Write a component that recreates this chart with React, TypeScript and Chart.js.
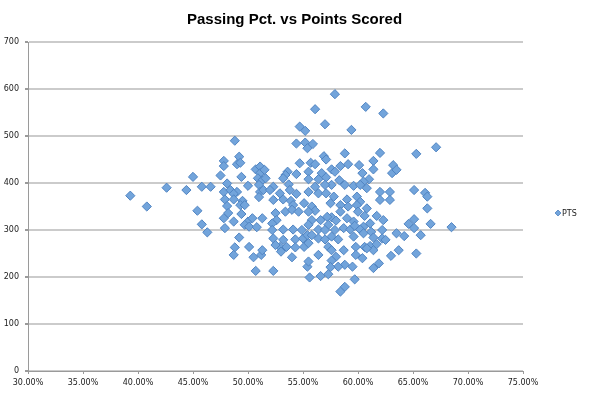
import React, { useEffect, useRef } from 'react';
import { Chart, registerables } from 'chart.js';

Chart.register(...registerables);

const chartTitle = 'Passing Pct. vs Points Scored';
const seriesName = 'PTS';

// Passing percentage (in %) for each point
const passPct: number[] = [
  45.0, 42.6, 44.4, 45.8, 46.6, 39.3, 40.8, 45.4, 45.8, 46.3,
  48.8, 47.8, 49.2, 47.8, 49.0, 49.3, 47.5, 49.4, 48.1, 50.0,
  47.8, 48.4, 49.0, 48.7, 47.9, 48.7, 48.1, 49.5, 49.3, 49.7,
  48.2, 47.8, 48.7, 49.4, 50.0, 50.4, 49.7, 50.1, 50.8, 51.3,
  47.9, 49.2, 48.8, 50.1, 48.7, 50.5, 51.2, 51.3, 50.7, 50.7,
  51.1, 51.1, 50.9, 51.3, 51.0, 51.1, 51.0, 51.4,
  54.4, 55.2, 54.7, 51.5, 53.6, 53.4, 54.4, 53.2, 51.6, 52.3,
  53.7, 52.0, 52.9, 53.8, 54.4, 52.3, 53.2, 53.9, 54.1, 55.1,
  53.4, 54.0, 54.6, 52.5, 52.6, 52.2, 53.2, 54.1, 54.9, 52.2,
  52.3, 53.2, 54.3, 55.0, 55.4, 52.9, 53.5, 54.3, 55.1, 52.5,
  53.0, 54.0, 55.4, 52.3,
  55.9, 55.4, 58.8, 56.9, 57.1, 55.7, 56.1, 58.4, 59.1, 57.6,
  57.9, 55.5, 56.7, 57.1, 56.4, 55.5, 58.3, 58.8, 57.6, 57.0,
  56.1, 55.5, 56.4, 57.1, 57.8, 57.5, 59.0, 58.4, 59.1, 55.8,
  56.1, 55.5, 58.4, 59.0, 57.6, 57.2, 56.6, 55.8, 58.0, 57.3,
  55.5, 56.4, 58.7, 59.3, 57.0, 57.9, 55.8, 56.4, 57.6, 57.0,
  58.2, 55.5, 57.3, 57.6, 58.7, 56.4, 55.5, 58.0, 57.6, 58.8,
  58.2, 57.5, 56.6, 57.3, 55.6, 58.8, 58.4,
  62.0, 61.4, 60.1, 61.4, 63.2, 63.1, 63.5, 60.4, 61.0, 60.5,
  59.6, 60.2, 60.8, 62.0, 62.9, 62.0, 62.9, 59.9, 60.2, 59.9,
  60.8, 60.0, 60.6, 61.7, 62.3, 59.6, 61.1, 60.5, 62.2, 60.2,
  59.7, 61.2, 60.5, 61.4, 62.2, 63.5, 59.6, 62.5, 59.8, 60.6,
  61.1, 61.7, 61.4, 60.8, 59.8, 60.4, 63.0, 63.7, 61.9, 61.4,
  59.5, 59.7,
  67.1, 65.3, 65.1, 66.1, 66.3, 66.3, 65.1, 64.6, 65.1, 66.6,
  68.5, 64.2, 65.7, 65.3,
  57.9, 56.1, 60.7, 62.3, 57.0, 54.7, 55.2, 59.4,
];

// Points scored for each point (same order as passPct)
const pointsScored: number[] = [
  413, 390, 385, 392, 392, 373, 350, 341, 312, 295,
  490, 447, 456, 436, 440, 443, 416, 413, 399, 394,
  381, 385, 381, 377, 365, 365, 351, 362, 353, 353,
  336, 325, 318, 334, 318, 325, 311, 307, 306, 325,
  304, 284, 263, 264, 247, 242, 247, 257, 213, 429,
  435, 421, 410, 406, 396, 381, 370, 385,
  484, 486, 442, 428, 424, 417, 419, 410, 410, 392,
  397, 385, 378, 385, 377, 364, 365, 362, 353, 357,
  339, 343, 339, 336, 321, 314, 301, 301, 300, 300,
  282, 279, 280, 282, 289, 264, 264, 263, 264, 268,
  254, 242, 222, 213,
  483, 474, 463, 457, 450, 443, 440, 436, 440, 429,
  424, 424, 421, 412, 408, 408, 406, 396, 396, 396,
  392, 381, 378, 378, 371, 357, 365, 353, 350, 350,
  341, 339, 339, 325, 327, 328, 321, 321, 320, 311,
  311, 301, 304, 301, 300, 300, 289, 282, 286, 280,
  280, 272, 264, 257, 257, 247, 233, 243, 235, 226,
  222, 221, 202, 206, 199, 179, 169,
  464, 447, 438, 429, 438, 421, 428, 421, 408, 403,
  394, 396, 389, 381, 381, 364, 364, 371, 360, 353,
  346, 339, 330, 330, 321, 318, 314, 307, 300, 301,
  309, 296, 293, 284, 282, 293, 286, 279, 264, 264,
  266, 270, 257, 261, 247, 240, 245, 257, 229, 219,
  222, 195,
  476, 462, 385, 379, 371, 346, 323, 313, 304, 313,
  306, 287, 289, 250,
  589, 557, 562, 548, 525, 520, 511, 513,
];

const xTickValues: number[] = [30, 35, 40, 45, 50, 55, 60, 65, 70, 75];
const yTickValues: number[] = [0, 100, 200, 300, 400, 500, 600, 700];

const FILL = '#72a4db';
const EDGE = '#5084c2';

export default function App() {
  const canvasRef = useRef<HTMLCanvasElement>(null);

  useEffect(() => {
    const canvas = canvasRef.current;
    if (!canvas) return;

    const sideLegend = {
      id: 'sideLegend',
      afterDraw(chart: any) {
        const ctx = chart.ctx;
        const area = chart.chartArea;
        const mx = area.right + 35;
        const my = 213;
        ctx.save();
        ctx.beginPath();
        const r = 3;
        ctx.moveTo(mx, my - r);
        ctx.lineTo(mx + r, my);
        ctx.lineTo(mx, my + r);
        ctx.lineTo(mx - r, my);
        ctx.closePath();
        ctx.fillStyle = FILL;
        ctx.fill();
        ctx.strokeStyle = EDGE;
        ctx.lineWidth = 0.8;
        ctx.stroke();
        ctx.fillStyle = '#1a1a1a';
        ctx.font = '8px "DejaVu Sans"';
        ctx.textAlign = 'left';
        ctx.textBaseline = 'middle';
        ctx.fillText(seriesName, mx + 4, my + 0.5);
        ctx.restore();
      },
    };

    const data = passPct.map((p, i) => ({ x: p, y: pointsScored[i] }));

    const chart = new Chart(canvas, {
      type: 'scatter',
      data: {
        datasets: [
          {
            label: seriesName,
            data,
            pointStyle: 'rectRot',
            pointRadius: 4.6,
            backgroundColor: FILL,
            borderColor: EDGE,
            borderWidth: 1,
          },
        ],
      },
      options: {
        animation: false,
        responsive: false,
        events: [],
        layout: { padding: 0 },
        plugins: {
          legend: { display: false },
          tooltip: { enabled: false },
          title: {
            display: true,
            text: chartTitle,
            color: '#000',
            font: { family: 'Liberation Sans', size: 15, weight: 'bold' },
            padding: { top: 11, bottom: 13 },
          },
        },
        scales: {
          x: {
            type: 'linear',
            min: 30,
            max: 75,
            afterBuildTicks: (scale: any) => {
              scale.ticks = xTickValues.map((v) => ({ value: v }));
            },
            afterFit: (scale: any) => {
              scale.height = 23;
            },
            grid: {
              display: true,
              drawOnChartArea: false,
              drawTicks: true,
              tickLength: 3,
              tickColor: '#9a9a9a',
            },
            border: { display: true, color: '#9a9a9a', width: 1 },
            ticks: {
              autoSkip: false,
              maxRotation: 0,
              padding: 4,
              color: '#1a1a1a',
              font: { family: 'DejaVu Sans', size: 8 },
              callback: (v: any) => Number(v).toFixed(2) + '%',
            },
          },
          y: {
            type: 'linear',
            min: 0,
            max: 700,
            afterBuildTicks: (scale: any) => {
              scale.ticks = yTickValues.map((v) => ({ value: v }));
            },
            afterFit: (scale: any) => {
              scale.width = 28;
            },
            grid: {
              color: '#cbcbcb',
              lineWidth: 2,
              drawTicks: true,
              tickLength: 3,
              tickColor: '#9a9a9a',
            },
            border: { display: true, color: '#9a9a9a', width: 1 },
            ticks: {
              autoSkip: false,
              padding: 6,
              color: '#1a1a1a',
              font: { family: 'DejaVu Sans', size: 8 },
            },
          },
          legendSpace: {
            type: 'linear',
            position: 'right',
            display: true,
            min: 0,
            max: 1,
            afterFit: (scale: any) => {
              scale.width = 66;
            },
            grid: { display: false, drawOnChartArea: false, drawTicks: false },
            border: { display: false },
            ticks: { display: false },
          },
        },
      },
      plugins: [sideLegend],
    } as any);

    return () => {
      chart.destroy();
    };
  }, []);

  return (
    <div style={{ position: 'fixed', left: 0, top: 0, width: 589, height: 394, background: '#fff' }}>
      <canvas ref={canvasRef} width={589} height={394} style={{ display: 'block', width: 589, height: 394 }} />
    </div>
  );
}
